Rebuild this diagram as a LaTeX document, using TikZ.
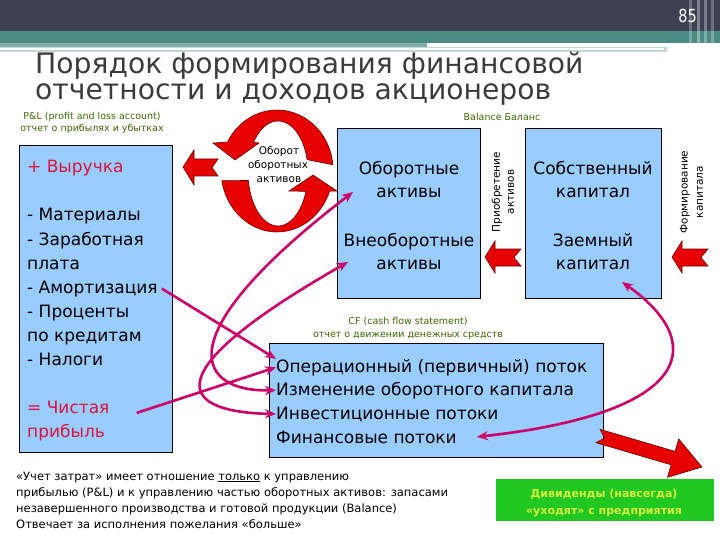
\documentclass[tikz,border=0pt]{standalone}
\usepackage{fontspec}
\setmainfont{DejaVu Sans}
\usetikzlibrary{arrows.meta,calc}
\definecolor{boxblue}{HTML}{99CCFF}
\definecolor{lblgreen}{HTML}{3D6B00}
\definecolor{mag}{HTML}{CC0066}
\definecolor{rred}{HTML}{E60000}
\definecolor{dred}{HTML}{6E0000}
\definecolor{txtred}{HTML}{E0103C}
\definecolor{headdark}{HTML}{3E4152}
\definecolor{tealband}{HTML}{4A8C84}
\definecolor{divgreen}{HTML}{22C822}
\definecolor{divtext}{HTML}{D4F03C}
\definecolor{titlegray}{HTML}{3C3C3C}
\begin{document}
\begin{tikzpicture}[x=1pt,y=-1pt,
  bx/.style={draw=black,line width=0.9pt,fill=boxblue,inner sep=0pt,anchor=north west},
  ln/.style={anchor=base west,inner sep=0pt,font=\fontsize{17}{20}\selectfont},
  lnc/.style={anchor=base,inner sep=0pt,font=\fontsize{17}{20}\selectfont},
  lbl/.style={anchor=base,inner sep=0pt,text=lblgreen,font=\fontsize{9.5}{11}\selectfont},
  rot/.style={inner sep=0pt,rotate=90,font=\fontsize{10.5}{12}\selectfont},
  note/.style={anchor=base west,inner sep=0pt,font=\fontsize{11.5}{14}\selectfont},
  link/.style={draw=mag,line width=2.6pt,-{Stealth[length=11pt,width=9pt]}},
  linkb/.style={draw=mag,line width=2.6pt,{Stealth[length=11pt,width=9pt]}-{Stealth[length=11pt,width=9pt]}},
  blk/.style={fill=rred,draw=dred,line width=0.6pt},
]
\useasboundingbox (0,0) rectangle (720,540);
\fill[white] (0,0) rectangle (720,540);
% header
\fill[headdark] (0,0) rectangle (720,31);
\fill[tealband] (0,31) rectangle (720,43);
\fill[tealband!70!white] (0,43) rectangle (427,47);
\fill[tealband!35!white] (0,47) rectangle (667,52);
\fill[white] (0,48.5) rectangle (664,50.5);
\foreach \xx/\op in {689/0.25,697/0.35,704/0.3,711/0.25}{
  \fill[white,opacity=\op] (\xx,0) rectangle (\xx+3,58);
}
\node[anchor=base east,inner sep=0pt,text=white,font=\fontsize{18}{18}\selectfont] (pg) at (697,23) {\scalebox{0.8}[1]{85}};
% title
\node[anchor=base west,inner sep=0pt,text=titlegray,font=\fontsize{28.2}{30}\selectfont] (t1) at (35,74) {Порядок формирования финансовой};
\node[anchor=base west,inner sep=0pt,text=titlegray,font=\fontsize{28.2}{30}\selectfont] (t2) at (35,100) {отчетности и доходов акционеров};
% labels
\node[lbl] (pl1) at (92,120) {P\&L (profit and loss account)};
\node[lbl] (pl2) at (92,132) {отчет о прибылях и убытках};
\node[lbl] (balL) at (502,121) {Balance Баланс};
\node[lbl] (cfL1) at (408,324) {CF (cash flow statement)};
\node[lbl] (cfL2) at (408,337) {отчет о движении денежных средств};
% boxes
\node[bx,minimum width=153pt,minimum height=307pt] (pl) at (19,145) {};
\node[bx,minimum width=143pt,minimum height=170pt] (bal) at (337,128) {};
\node[bx,minimum width=136pt,minimum height=170pt] (cap) at (525,128) {};
\node[bx,minimum width=334pt,minimum height=114pt] (cf) at (269,343) {};
\node[fill=divgreen,inner sep=0pt,anchor=north west,minimum width=218pt,minimum height=42pt] (div) at (496,479) {};
% P&L lines
\node[ln,text=txtred] (l1) at (27,173) {+ Выручка};
\node[ln] (l2) at (27,221) {- Материалы};
\node[ln] (l3) at (27,245) {- Заработная};
\node[ln] (l4) at (27,269) {плата};
\node[ln] (l5) at (27,293) {- Амортизация};
\node[ln] (l6) at (27,317) {- Проценты};
\node[ln] (l7) at (27,341) {по кредитам};
\node[ln] (l8) at (27,365) {- Налоги};
\node[ln,text=txtred] (l9) at (27,413) {= Чистая};
\node[ln,text=txtred] (l10) at (27,437) {прибыль};
% balance
\node[lnc] (b1) at (409,175) {Оборотные};
\node[lnc] (b2) at (409,197) {активы};
\node[lnc] (b3) at (409,247) {Внеоборотные};
\node[lnc] (b4) at (409,269) {активы};
\node[lnc] (c1) at (593,175) {Собственный};
\node[lnc] (c2) at (593,197) {капитал};
\node[lnc] (c3) at (593,247) {Заемный};
\node[lnc] (c4) at (593,269) {капитал};
% CF lines
\node[ln] (cf1) at (276,372) {Операционный (первичный) поток};
\node[ln] (cf2) at (276,395) {Изменение оборотного капитала};
\node[ln] (cf3) at (276,419) {Инвестиционные потоки};
\node[ln] (cf4) at (276,443) {Финансовые потоки};
% rotated labels
\node[rot] (r1) at (497,192) {Приобретение};
\node[rot] (r2) at (511,192) {активов};
\node[rot] (r3) at (685,192) {Формирование};
\node[rot] (r4) at (700,192) {капитала};
% ring
\filldraw[blk] ($(277,170)+(-5:56 and 60)$) arc[start angle=-5,end angle=-152.3,x radius=56,y radius=60]
  -- (213,143) -- (235,160) -- (259,143)
  -- ($(278,172)+(-144.5:30 and 51)$) arc[start angle=-144.5,end angle=-14,x radius=30,y radius=51] -- cycle;
\filldraw[blk] ($(277,170)+(170:56 and 62)$) arc[start angle=170,end angle=20,x radius=56,y radius=62]
  -- (337,191) -- (313,175) -- (289,191)
  -- ($(278,172)+(21:30 and 54)$) arc[start angle=21,end angle=171,x radius=30,y radius=54] -- cycle;
\node[anchor=base,inner sep=0pt,font=\fontsize{10.5}{12}\selectfont] (o1) at (279,155) {Оборот};
\node[anchor=base,inner sep=0pt,font=\fontsize{10.5}{12}\selectfont] (o2) at (278,169) {оборотных};
\node[anchor=base,inner sep=0pt,font=\fontsize{10.5}{12}\selectfont] (o3) at (279,183) {активов};
% block arrows
\filldraw[blk] (183,167) -- (194,150) -- (194,159) -- (218,159) -- (212,167.5) -- (218,176) -- (194,176) -- (194,185) -- cycle;
\filldraw[blk] (485,257) -- (495,241) -- (495,249) -- (521,249) -- (514,257.5) -- (521,266) -- (495,266) -- (495,273) -- cycle;
\filldraw[blk] (672,257) -- (682,241) -- (682,249) -- (708,249) -- (701,257.5) -- (708,266) -- (682,266) -- (682,273) -- cycle;
\filldraw[blk] (600,429.3) -- (675.1,451.4) -- (678.7,438.9) -- (702,467) -- (667.5,477.3) -- (671.1,464.8) -- (596,442.7) -- (604.7,438) -- cycle;
% dividends text
\node[anchor=base,inner sep=0pt,text=divtext,font=\bfseries\fontsize{11}{13}\selectfont] (d1) at (604,497) {Дивиденды (навсегда)};
\node[anchor=base,inner sep=0pt,text=divtext,font=\bfseries\fontsize{11}{13}\selectfont] (d2) at (604,514) {«уходят» с предприятия};
% notes
\node[note] (n1) at (16,480) {«Учет затрат» имеет отношение \underline{только} к управлению};
\node[note] (n2) at (16,496) {прибылью (P\&L) и к управлению частью оборотных активов: запасами};
\node[note] (n3) at (16,512) {незавершенного производства и готовой продукции (Balance)};
\node[note] (n4) at (16,528) {Отвечает за исполнения пожелания «больше»};
% magenta connectors
\coordinate (oa) at (353,192);
\coordinate (va) at (348,262);
\coordinate (ka) at (622,282);
\draw[link] ([xshift=4pt]l5.east) -- (cf1.north west);
\draw[link] ([xshift=27pt,yshift=-6pt]l9.east) -- (cf1.west);
\draw[linkb] (oa) .. controls (160,340) and (200,392) .. (cf2.west);
\draw[linkb] (va) .. controls (150,375) and (180,412) .. (cf3.west);
\draw[linkb] (ka) .. controls (705,340) and (700,412) .. ([xshift=20pt]cf4.east);
\end{tikzpicture}
\end{document}
